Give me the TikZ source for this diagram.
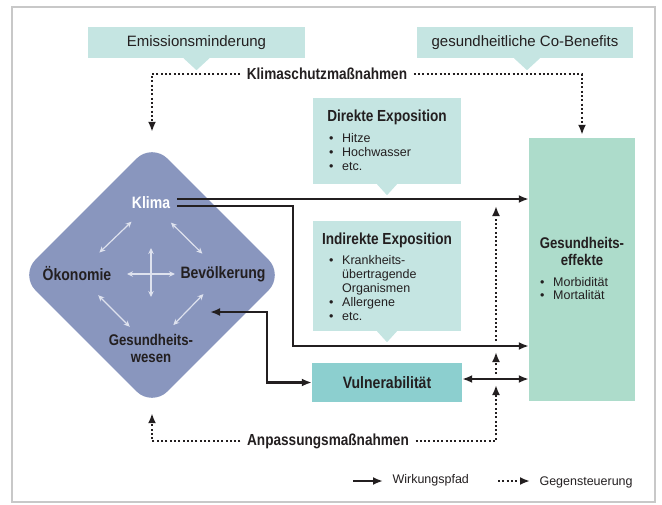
\documentclass[tikz,border=0pt]{standalone}
\usepackage{fontspec}
\setmainfont{Liberation Sans}
\newfontfamily\condfont[FakeStretch=0.85]{Liberation Sans}
\usetikzlibrary{arrows.meta,shapes.geometric}

\definecolor{expo}{RGB}{197,229,226}
\definecolor{effekt}{RGB}{173,220,203}
\definecolor{vulner}{RGB}{140,207,207}
\definecolor{raute}{RGB}{137,150,190}
\definecolor{ink}{RGB}{35,31,32}
\definecolor{hell}{RGB}{222,226,238}
\definecolor{rahmen}{RGB}{200,200,200}

\newcommand{\bul}{\makebox[13pt][l]{\textbullet}}
\newcommand{\ein}{\hspace*{13pt}}

\tikzset{
  kasten/.style={fill=#1, inner sep=0pt},
  titel/.style={font=\condfont\bfseries\fontsize{#1}{17}\selectfont, text=ink, align=center},
  titel/.default=16,
  liste/.style={font=\fontsize{12.5}{#1}\selectfont, text=ink, align=left, inner sep=0pt, anchor=north west},
  liste/.default=14,
  oben/.style={font=\fontsize{15}{17}\selectfont, text=ink},
  wirk/.style={line width=2.4pt, ink, -{Latex[length=10pt,width=8pt]}},
  beide/.style={line width=2.4pt, ink, {Latex[length=10pt,width=8pt]}-{Latex[length=10pt,width=8pt]}},
  gegen/.style={line width=2pt, ink, dash pattern=on 2pt off 2.3pt, -{Latex[length=10pt,width=8pt]}},
  hellpfeil/.style={draw=hell, line width=1.2pt, {Stealth[length=6pt,width=5.5pt]}-{Stealth[length=6pt,width=5.5pt]}}
}

\begin{document}
\begin{tikzpicture}[x=1pt, y=-1pt]
  \useasboundingbox (0,0) rectangle (662,504);
  \draw[rahmen, line width=1.5pt] (12,7) rectangle (655,502);

  \node[kasten=expo, minimum width=217pt, minimum height=31pt] (emis) at (196.5,42.5) {};
  \fill[expo] (emis.south) ++(-13pt,0) -- ++(26pt,0) -- ++(-13pt,-12pt) -- cycle;
  \node[oben] at (emis) {Emissionsminderung};
  \node[kasten=expo, minimum width=216pt, minimum height=31pt] (cobenefit) at (525,42.5) {};
  \fill[expo] ([xshift=2pt]cobenefit.south) ++(-13pt,0) -- ++(26pt,0) -- ++(-13pt,-12pt) -- cycle;
  \node[oben] at (cobenefit) {gesundheitliche Co-Benefits};

  \node[titel, inner sep=6.5pt] (schutz) at (327,74) {Klimaschutzma\ss nahmen};
  \node[titel, inner sep=6.5pt] (anpass) at (328,441) {Anpassungsma\ss nahmen};

  \node[kasten=expo, minimum width=148pt, minimum height=86pt] (direkt) at (387,141) {};
  \fill[expo] (direkt.south) ++(-10pt,0) -- ++(20pt,0) -- ++(-10pt,-11pt) -- cycle;
  \node[titel] at (387,117) {Direkte Exposition};
  \node[liste] at (329,133) {\bul Hitze\\\bul Hochwasser\\\bul etc.};

  \node[kasten=expo, minimum width=148pt, minimum height=110pt] (indirekt) at (387,276) {};
  \fill[expo] (indirekt.south) ++(-10pt,0) -- ++(20pt,0) -- ++(-10pt,-11pt) -- cycle;
  \node[titel] at (387,240) {Indirekte Exposition};
  \node[liste] at (329,255) {\bul Krankheits-\\\ein\"ubertragende\\\ein Organismen\\\bul Allergene\\\bul etc.};

  \node[kasten=vulner, minimum width=150pt, minimum height=39pt] (vuln) at (387,382.5) {};
  \node[titel=16.5] at (vuln) {Vulnerabilit\"at};

  \node[kasten=effekt, minimum width=106pt, minimum height=263pt] (geseff) at (582,269.5) {};
  \node[titel=15.5] at (582,251) {Gesundheits-\\effekte};
  \node[liste=13.5] at (540,277) {\bul Morbidit\"at\\\bul Mortalit\"at};

  \node[diamond, fill=raute, rounded corners=22pt, minimum width=264pt, minimum height=264pt, inner sep=0pt] (dia) at (152,275) {};
  \node[titel=16.5, text=white, inner sep=3pt] (klima) at (151,203) {Klima};
  \node[titel=16.5] (oeko) at (77,274) {\"Okonomie};
  \node[titel=16.5] (bevoe) at (223,274) {Bev\"olkerung};
  \node[titel=15.5] (gesw) at (151,348) {Gesundheits-\\wesen};

  \draw[hellpfeil, shorten <=27pt, shorten >=31pt] (klima.center) -- (oeko.center);
  \draw[hellpfeil, shorten <=28pt, shorten >=29pt] (klima.center) -- (bevoe.center);
  \draw[hellpfeil, shorten <=30pt, shorten >=30pt] (oeko.center) -- (gesw.center);
  \draw[hellpfeil, shorten <=28pt, shorten >=32pt] (bevoe.center) -- (gesw.center);
  \draw[hellpfeil, shorten <=50pt, shorten >=48pt] (oeko.center) -- (bevoe.center);
  \draw[hellpfeil, shorten <=45pt, shorten >=51pt] (klima.center) -- (gesw.center);

  \coordinate (k1) at ([shift={(4pt,4pt)}]klima.east);
  \coordinate (k2) at ([shift={(4pt,-3pt)}]klima.east);
  \coordinate (knick) at (293,346);
  \coordinate (ziel) at (210,312);
  \coordinate (vr) at ([yshift=3.5pt]vuln.east);
  \draw[wirk] (k1) -- (k1 -| geseff.west);
  \draw[wirk] (k2) -| (knick) -- (knick -| geseff.west);
  \draw[beide] (ziel) -| ([xshift=-45pt]vuln.west) -- (vuln.west);
  \draw[beide] (vr) -- (vr -| geseff.west);

  \draw[gegen] (schutz.west) -| ([yshift=11pt]dia.north);
  \draw[gegen] (schutz.east) -| ([yshift=3pt]geseff.north);
  \draw[gegen] (anpass.west) -| ([yshift=-6pt]dia.south);
  \coordinate (g1) at (496,385);
  \coordinate (g2) at (496,374);
  \coordinate (g3) at (496,352);
  \coordinate (g4) at (496,341);
  \coordinate (g5) at (496,206);
  \draw[gegen] (anpass.east) -| (g1);
  \draw[gegen] (g2) -- (g3);
  \draw[gegen] (g4) -- (g5);

  \coordinate (lw) at (353,481);
  \node[font=\fontsize{12.5}{14}\selectfont, text=ink, anchor=west] (wirkung) at (389,480) {Wirkungspfad};
  \draw[wirk, shorten >=6pt] (lw) -- (lw -| wirkung.west);
  \coordinate (lg) at (498,481);
  \node[font=\fontsize{12.5}{14}\selectfont, text=ink, anchor=west] (steuer) at (536,482) {Gegensteuerung};
  \draw[gegen, shorten >=6pt] (lg) -- (lg -| steuer.west);
\end{tikzpicture}
\end{document}
